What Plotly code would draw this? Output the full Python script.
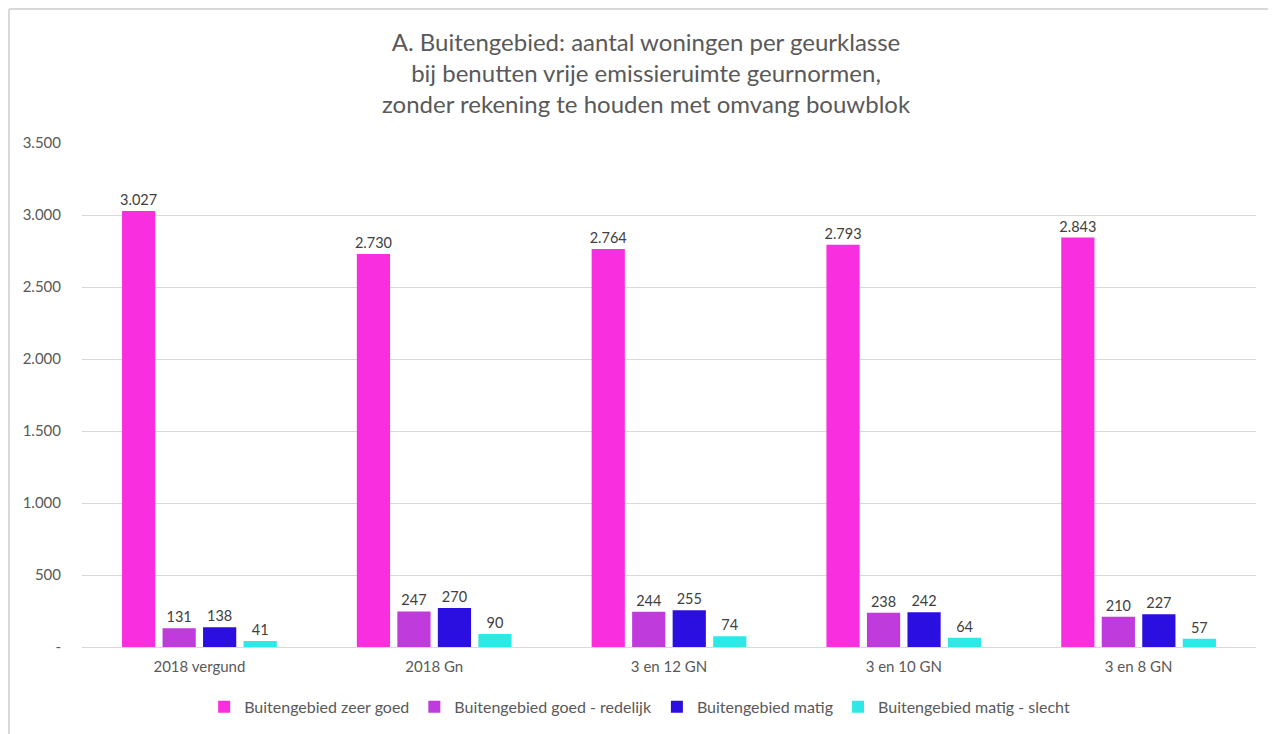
import plotly.graph_objects as go

categories = ["2018 vergund", "2018 Gn", "3 en 12 GN", "3 en 10 GN", "3 en 8 GN"]
series_names = ["Buitengebied zeer goed", "Buitengebied goed - redelijk",
                "Buitengebied matig", "Buitengebied matig - slecht"]
zeer_goed = [3027, 2730, 2764, 2793, 2843]
goed_redelijk = [131, 247, 244, 238, 210]
matig = [138, 270, 255, 242, 227]
matig_slecht = [41, 90, 74, 64, 57]
colors = ["#F82EDF", "#BF3BDB", "#2A0FE0", "#2EE8E8"]
tick_vals = [0, 500, 1000, 1500, 2000, 2500, 3000, 3500]
tick_text = ["-", "500", "1.000", "1.500", "2.000", "2.500", "3.000", "3.500"]

def fmt(v):
    return f"{v:,}".replace(",", ".")

fig = go.Figure()
for name, vals, col in zip(series_names, [zeer_goed, goed_redelijk, matig, matig_slecht], colors):
    fig.add_trace(go.Bar(
        x=categories, y=vals, name=name, marker=dict(color=col, line=dict(width=0)),
        text=[fmt(v) for v in vals], textposition="outside", cliponaxis=False,
        constraintext="none",
        textfont=dict(size=14.5, color="#404040", family="Lato"),
    ))

fig.update_layout(
    width=1276, height=734,
    paper_bgcolor="white", plot_bgcolor="white",
    margin=dict(l=74, r=28, t=135, b=95),
    barmode="group", bargap=0.31, bargroupgap=0.18,
    font=dict(family="Lato", color="#595959", size=15),
    title=dict(
        text="A. Buitengebied: aantal woningen per geurklasse<br>bij benutten vrije emissieruimte geurnormen,<br>zonder rekening te houden met omvang bouwblok",
        x=0.5, xanchor="center", y=0.942, yanchor="top",
        font=dict(size=24, color="#595959", family="Lato"),
    ),
    legend=dict(orientation="h", x=0.475, xanchor="center", y=-0.085, yanchor="top",
                font=dict(size=16, color="#595959"), itemwidth=30, traceorder="normal"),
    showlegend=True,
)
fig.update_yaxes(range=[0, 3500], tickvals=tick_vals, ticktext=tick_text,
                 showgrid=True, gridcolor="#D9D9D9", gridwidth=1, zeroline=False,
                 showline=False, ticks="", ticklabelstandoff=20,
                 tickfont=dict(size=15, color="#595959"))
fig.update_xaxes(showline=True, linecolor="#D9D9D9", linewidth=1, ticks="",
                 ticklabelstandoff=6,
                 tickfont=dict(size=15, color="#595959"))
# outer chart frame (left and top edges)
fig.add_shape(type="line", xref="paper", yref="paper",
              x0=-0.0622, x1=-0.0622, y0=-0.19, y1=1.266,
              line=dict(color="#D9D9D9", width=2))
fig.add_shape(type="line", xref="paper", yref="paper",
              x0=-0.0622, x1=1.024, y0=1.266, y1=1.266,
              line=dict(color="#D9D9D9", width=2))
fig.write_html("out.html")
